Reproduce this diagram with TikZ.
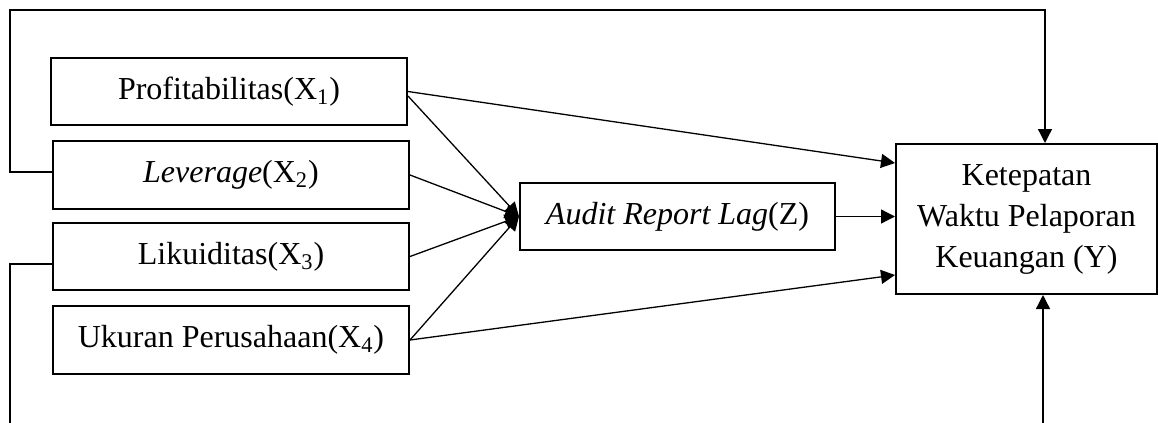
\documentclass[tikz,border=0pt]{standalone}
\usepackage{fontspec}
\setmainfont{Liberation Serif}
\usetikzlibrary{arrows.meta}
\begin{document}
\begin{tikzpicture}[x=0.5pt,y=-0.5pt,
  box/.style={draw, line width=1pt, inner sep=0pt, align=center,
    font=\fontsize{16}{20.5}\selectfont},
  xbox/.style={box, minimum width=178pt, minimum height=33.75pt},
  conn/.style={line width=0.65pt},
  arr/.style={conn, -{Triangle[length=7pt,width=7pt]}}]
\clip (0,0) rectangle (1158,423);
\fill[white] (0,0) rectangle (1158,423);
\node[xbox] (x1) at (229,91.5) {Profitabilitas(X\textsubscript{1})};
\node[xbox] (x2) at (231,175) {\textit{Leverage}(X\textsubscript{2})};
\node[xbox] (x3) at (231,256.5) {Likuiditas(X\textsubscript{3})};
\node[xbox] (x4) at (231,340) {Ukuran Perusahaan(X\textsubscript{4})};
\node[box, minimum width=157.5pt, minimum height=33.5pt] (z) at (677.5,216.5) {\textit{Audit Report Lag}(Z)};
\node[box, minimum width=130.5pt, minimum height=75pt] (y) at (1026.5,219) {Ketepatan\\Waktu Pelaporan\\Keuangan (Y)};
% coordinates for loops
\coordinate (tl) at (10,10);
\coordinate (tr) at (1045,10);
\coordinate (bl) at (10,440);
\coordinate (br) at (1043,440);
% arrows into Z
\draw[arr] ([yshift=-2.25pt]x1.east) -- (z.west);
\draw[arr] (x2.east) -- (z.west);
\draw[arr] (x3.east) -- (z.west);
\draw[arr] (x4.east) -- (z.west);
% arrows into Y
\draw[arr] (x1.east) -- ([yshift=28pt]y.west);
\draw[arr] (x4.east) -- ([yshift=-28pt]y.west);
\draw[arr] (z.east) -- (z.east -| y.west);
% loops
\draw[arr] ([yshift=1.5pt]x2.west) -- ([yshift=1.5pt]x2.west -| tl) -- (tl) -- (tr) -- (tr |- y.north);
\draw[arr] ([yshift=-3.75pt]x3.west) -- ([yshift=-3.75pt]x3.west -| bl) -- (bl) -- (br) -- (br |- y.south);
\end{tikzpicture}
\end{document}
